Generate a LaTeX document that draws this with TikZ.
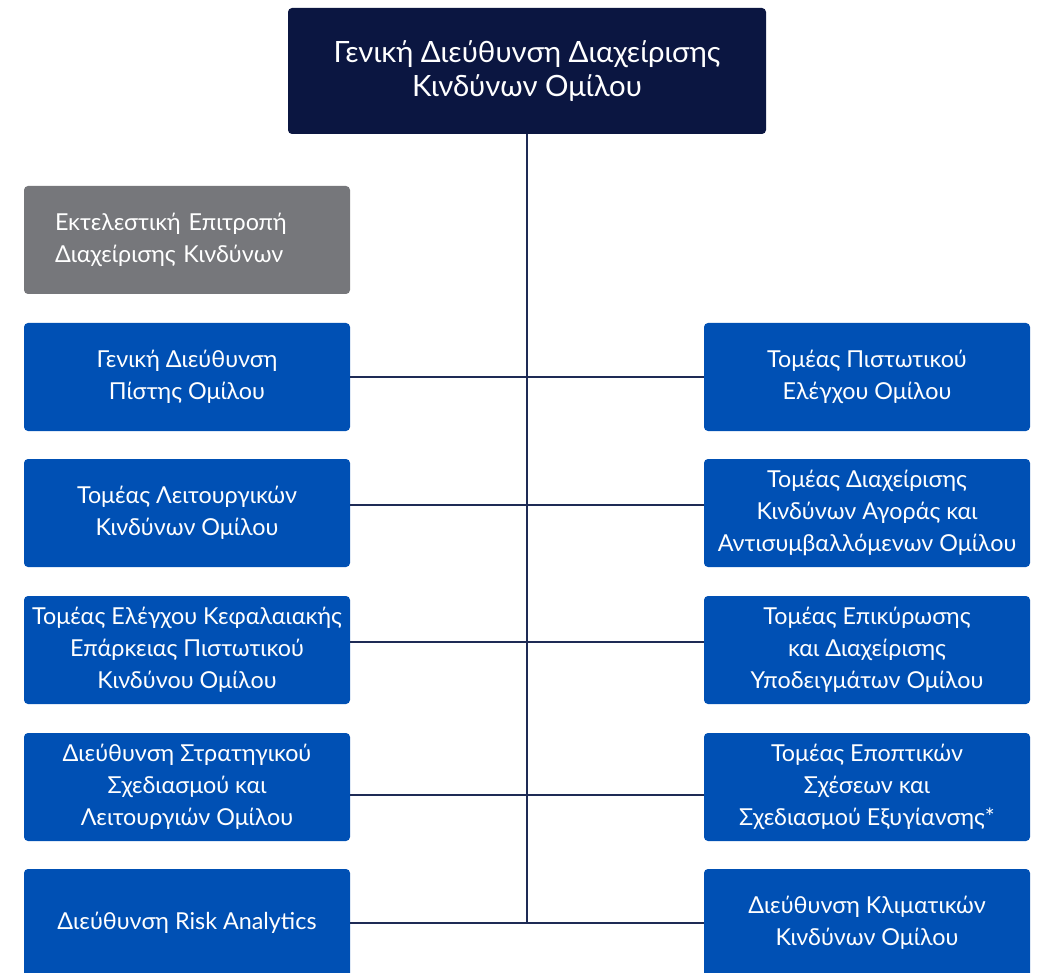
\documentclass[tikz,border=0pt]{standalone}
\usepackage{fontspec}
\setmainfont{Lato}
\definecolor{headnavy}{HTML}{0B1641}
\definecolor{unitblue}{HTML}{0050B4}
\definecolor{cmtgray}{HTML}{76777B}
\definecolor{linknavy}{HTML}{1E2B55}
\tikzset{unit/.style={rectangle,rounded corners=3pt,fill=unitblue,text=white,minimum width=244.5pt,minimum height=81pt,align=center,inner sep=0pt,font=\fontsize{17.5}{24}\selectfont},headbox/.style={unit,fill=headnavy,minimum width=358.5pt,minimum height=94.5pt,font=\fontsize{22}{25.5}\selectfont},committee/.style={unit,fill=cmtgray,text width=198pt,align=left,inner xsep=23.25pt},link/.style={draw=linknavy,line width=1.1pt}}

\begin{document}
\begin{tikzpicture}[x=0.75pt,y=-0.75pt]
\useasboundingbox (0,0) rectangle (1042,973);

%head
\node (head) at (527,71)[headbox]{Γενική Διεύθυνση Διαχείρισης\\Κινδύνων Ομίλου};
\node (cmt) at (187,240)[committee]{Εκτελεστική Επιτροπή\\Διαχείρισης Κινδύνων};

%left column
\node (l1) at (187,377)[unit]{Γενική Διεύθυνση\\Πίστης Ομίλου};
\node (l2) at (187,513)[unit]{Τομέας Λειτουργικών\\Κινδύνων Ομίλου};
\node (l3) at (187,650)[unit]{Τομέας Ελέγχου Κεφαλαιακής\\Επάρκειας Πιστωτικού\\Κινδύνου Ομίλου};
\node (l4) at (187,787)[unit]{Διεύθυνση Στρατηγικού\\Σχεδιασμού και\\Λειτουργιών Ομίλου};
\node (l5) at (187,923)[unit]{Διεύθυνση Risk Analytics};

%right column
\node (r1) at (867,377)[unit]{Τομέας Πιστωτικού\\Ελέγχου Ομίλου};
\node (r2) at (867,513)[unit]{Τομέας Διαχείρισης\\Κινδύνων Αγοράς και\\Αντισυμβαλλόμενων Ομίλου};
\node (r3) at (867,650)[unit]{Τομέας Επικύρωσης\\και Διαχείρισης\\Υποδειγμάτων Ομίλου};
\node (r4) at (867,787)[unit]{Τομέας Εποπτικών\\Σχέσεων και\\Σχεδιασμού Εξυγίανσης*};
\node (r5) at (867,923)[unit]{Διεύθυνση Κλιματικών\\Κινδύνων Ομίλου};

%links
\draw[link] (head.south) -- (head.south |- l5.east);
\draw[link] (l1.east) -- (r1.west);
\draw[link] ([yshift=6pt]l2.east) -- ([yshift=6pt]r2.west);
\draw[link] ([yshift=6pt]l3.east) -- ([yshift=6pt]r3.west);
\draw[link] ([yshift=-6pt]l4.east) -- ([yshift=-6pt]r4.west);
\draw[link] (l5.east) -- (r5.west);
\end{tikzpicture}
\end{document}
